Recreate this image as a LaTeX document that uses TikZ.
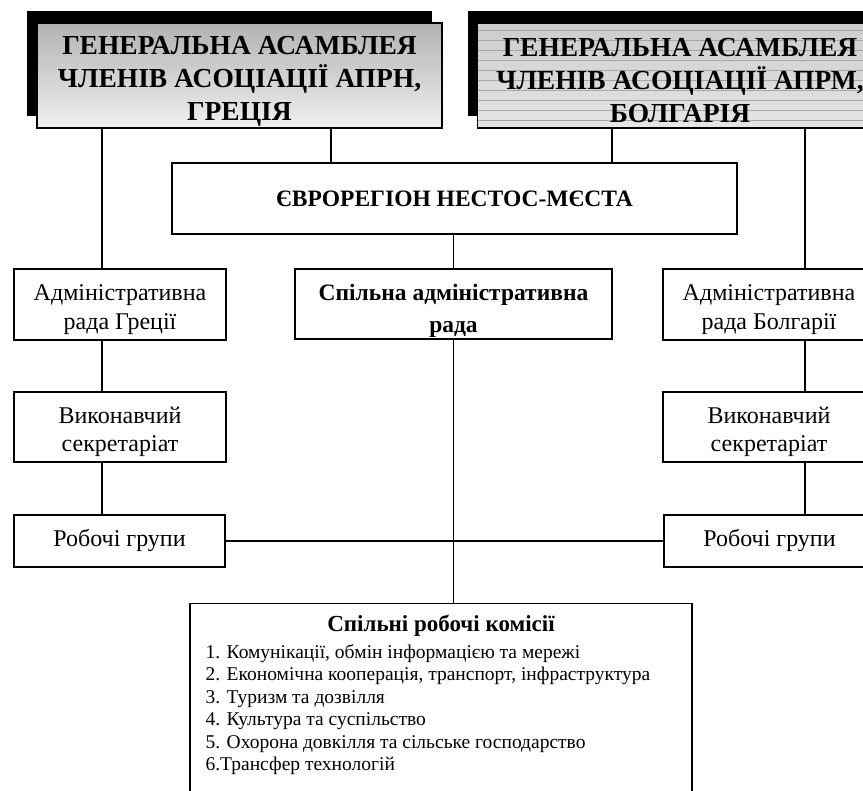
\documentclass[tikz,border=0pt]{standalone}
\usepackage{fontspec}
\setmainfont{Liberation Serif}
\usetikzlibrary{shadows,positioning}
\newcommand{\lift}[1]{\rule{0pt}{#1}}
\tikzset{
	assembly/.style={draw, line width=1.2pt, minimum width=405pt, minimum height=105pt, inner ysep=0pt, align=center,
		font=\bfseries\fontsize{27.5}{33}\selectfont,
		general shadow={fill=black, shadow xshift=-10pt, shadow yshift=12pt}},
	lined/.style={path picture={
		\foreach \k in {0,...,9}
			\draw[gray!70, line width=0.5pt] ([yshift={-7pt-\k*10pt}]path picture bounding box.north west) -- ([yshift={-7pt-\k*10pt}]path picture bounding box.north east);
	}},
	heavybox/.style={draw, line width=2.6pt, align=center, minimum height=71pt, inner ysep=0pt},
	lightbox/.style={draw, line width=1.2pt, align=center},
	plain/.style={font=\fontsize{24}{28.5}\selectfont},
	strong/.style={font=\bfseries\fontsize{23.5}{32}\selectfont},
	link/.style={line width=1.3pt},
}
\begin{document}
\begin{tikzpicture}[x=1pt, y=-1pt]
\useasboundingbox (0,0) rectangle (863,791);
\clip (0,0) rectangle (863,791);

% general assemblies
\node[assembly, top color=gray!60, bottom color=gray!12] (gaGR) at (239.5,75.5) {\lift{29pt}ГЕНЕРАЛЬНА АСАМБЛЕЯ\\ЧЛЕНІВ АСОЦІАЦІЇ АПРН,\\ГРЕЦІЯ};
\node[assembly, lined, top color=gray!40, bottom color=gray!20] (gaBG) at (680,75.5) {\lift{29pt}ГЕНЕРАЛЬНА АСАМБЛЕЯ\\ЧЛЕНІВ АСОЦІАЦІЇ АПРМ,\\БОЛГАРІЯ};

% euroregion
\node[heavybox, strong, minimum width=565pt] (euro) at (454.5,198.5) {ЄВРОРЕГІОН НЕСТОС-МЄСТА};

% administrative councils
\node[heavybox, plain, minimum width=212pt] (radaGR) at (120,304.5) {\lift{26pt}Адміністративна\\рада Греції};
\node[heavybox, strong, minimum width=317pt, minimum height=70pt] (spil) at (453.5,304) {\lift{30pt}Спільна адміністративна\\рада};
\node[heavybox, plain, minimum width=212pt] (radaBG) at (769,304.5) {\lift{26pt}Адміністративна\\рада Болгарії};

% secretariats
\node[heavybox, plain, minimum width=212pt, minimum height=70pt] (secGR) at (120,427) {\lift{26pt}Виконавчий\\секретаріат};
\node[heavybox, plain, minimum width=212pt, minimum height=70pt] (secBG) at (769,427) {\lift{26pt}Виконавчий\\секретаріат};

% working groups
\node[lightbox, plain, minimum width=211pt, minimum height=52pt] (robGR) at (119.5,541) {Робочі групи};
\node[lightbox, plain, minimum width=211pt, minimum height=52pt] (robBG) at (769.5,541) {Робочі групи};

% joint commissions
\node[lightbox, minimum width=502pt, minimum height=220pt, anchor=north] (com) at (441,603) {};
\node[font=\bfseries\fontsize{23}{26}\selectfont, inner sep=0pt, below=12pt of com.north] (comtitle) {Спільні робочі комісії};
\node[font=\fontsize{19.5}{22.5}\selectfont, inner sep=0pt, align=left, anchor=north west] (comlist) at ([xshift=16pt,yshift=-41pt]com.north west) {1. Комунікації, обмін інформацією та мережі\\2. Економічна кооперація, транспорт, інфраструктура\\3. Туризм та дозвілля\\4. Культура та суспільство\\5. Охорона довкілля та сільське господарство\\6.Трансфер технологій};

% connectors
\coordinate (lx) at (102,0);
\coordinate (ax) at (331,0);
\coordinate (bx) at (612,0);
\coordinate (rx) at (805,0);
\draw[link] (gaGR.south -| lx) -- (radaGR.north -| lx);
\draw[link] (gaGR.south -| ax) -- (euro.north -| ax);
\draw[link] (gaBG.south -| bx) -- (euro.north -| bx);
\draw[link] (gaBG.south -| rx) -- (radaBG.north -| rx);
\draw[link] (euro.south -| spil.north) -- (spil.north);
\draw[link] (radaGR.south -| lx) -- (secGR.north -| lx);
\draw[link] (radaBG.south -| rx) -- (secBG.north -| rx);
\draw[link] (secGR.south -| lx) -- (robGR.north -| lx);
\draw[link] (secBG.south -| rx) -- (robBG.north -| rx);
\draw[link] (robGR.east) -- (robBG.west);
\draw[link] (spil.south) -- (com.north -| spil.south);
\end{tikzpicture}
\end{document}
